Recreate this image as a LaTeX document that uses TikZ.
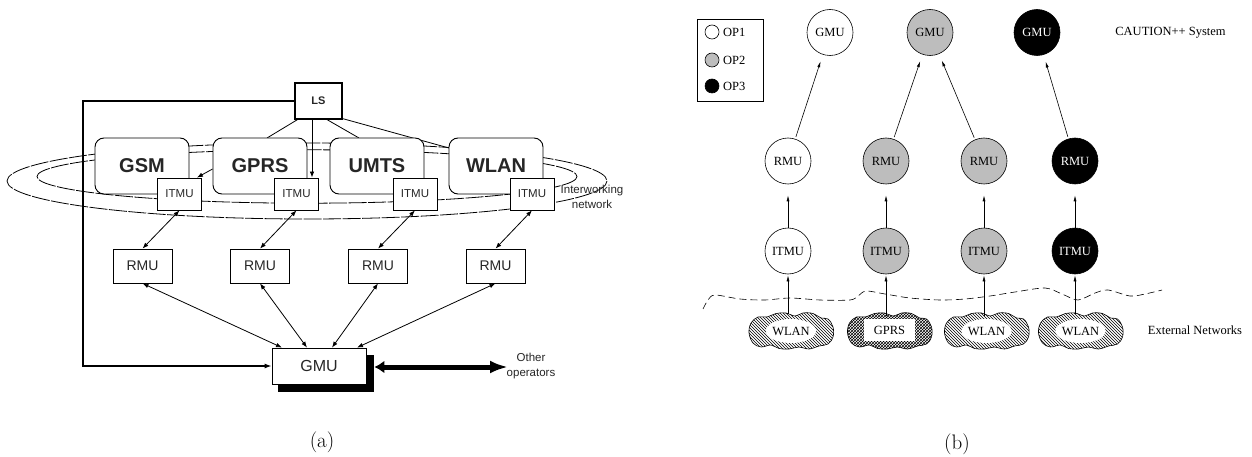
\documentclass[tikz,border=0pt]{standalone}
\usepackage{fontspec}
\newfontfamily\arialf{Liberation Sans}
\newfontfamily\timesf{Liberation Serif}
\usetikzlibrary{arrows.meta,shapes.geometric,patterns,calc}
\definecolor{opgray}{gray}{0.74}
\definecolor{txtgray}{gray}{0.15}
\begin{document}
\begin{tikzpicture}[x=1pt,y=-1pt,
  abox/.style={draw, fill=white, line width=0.8pt, inner sep=0pt, text=txtgray},
  net/.style={draw, fill=white, rounded corners=9pt, line width=0.9pt, minimum width=94pt, minimum height=56pt, inner sep=0pt, text=txtgray, font=\arialf\bfseries\fontsize{20}{24}\selectfont},
  itmu/.style={abox, minimum width=44pt, minimum height=32pt, font=\arialf\fontsize{11.5}{13}\selectfont},
  rmu/.style={abox, minimum width=59pt, minimum height=34pt, font=\arialf\fontsize{14}{16}\selectfont},
  ring/.style={line width=0.8pt, dash pattern=on 18pt off 1.5pt},
  dbl/.style={{Latex[length=6pt,width=4.5pt]}-{Latex[length=6pt,width=4.5pt]}, line width=0.8pt},
  plain/.style={line width=0.8pt},
  smalltxt/.style={font=\arialf\fontsize{11.5}{15}\selectfont, text=txtgray, align=center, inner sep=0pt},
  circ/.style={circle, draw, line width=0.6pt, minimum size=46pt, inner sep=0pt, font=\timesf\fontsize{12.5}{14}\selectfont},
  opone/.style={circ, fill=white},
  optwo/.style={circ, fill=opgray},
  opthree/.style={circ, fill=black, text=white},
  barrow/.style={-{Latex[length=6pt,width=3pt]}, line width=0.6pt},
  wlab/.style={ellipse, fill=white, inner xsep=-1pt, minimum height=24pt, font=\timesf\fontsize{12.5}{14}\selectfont},
  serift/.style={font=\timesf\fontsize{12.5}{14}\selectfont, inner sep=0pt},
  capt/.style={font=\fontsize{21}{24}\selectfont, inner sep=0pt},
  netcloud/.pic={\draw[line width=0.6pt, pic actions] plot[smooth cycle, tension=0.6] coordinates {(-42,2) (-40,-8) (-33,-14) (-24,-14) (-15,-17.5) (-5,-18) (4,-15) (12,-18) (22,-17.5) (30,-13) (37,-12) (42,-4) (42,6) (37,13) (28,15) (18,18) (8,16) (-2,18) (-12,17.5) (-20,14) (-30,16) (-38,12)};}
]
\useasboundingbox (0,0) rectangle (1252,457);

% ================= (a) =================
\draw[ring] (307,181) ellipse [x radius=300, y radius=38];
\draw[ring] (307,176.5) ellipse [x radius=270, y radius=26.7];
\node[smalltxt] (iwn) at (592,196.5) {Interworking\\network};

\node[abox, minimum width=47pt, minimum height=36pt, line width=1.2pt, font=\arialf\bfseries\fontsize{11}{13}\selectfont] (ls) at (318.5,101) {LS};

\coordinate (gprsTop) at (267,138);
\coordinate (umtsTop) at (359,138);
\coordinate (wlanLeft) at (449,148);
\draw[plain] ([xshift=-21pt]ls.south) -- (gprsTop);
\draw[plain] ([xshift=8.5pt]ls.south) -- (umtsTop);
\draw[plain] ([yshift=1pt]ls.south east) -- (wlanLeft);

\node[net] (gsm) at (142,166) {GSM};
\node[net] (gprs) at (260,166) {GPRS};
\node[net] (umts) at (377,166) {UMTS};
\node[net] (wlan) at (496,166) {WLAN};

\node[itmu] (it1) at (179.5,194) {ITMU};
\node[itmu] (it2) at (296.5,194) {ITMU};
\node[itmu] (it3) at (415,194) {ITMU};
\node[itmu] (it4) at (532,194) {ITMU};

\draw[plain, -{Latex[length=6pt,width=4.5pt]}] ([xshift=-6.5pt]ls.south) -- ([xshift=-6.5pt]ls.south |- it2.north);
\draw[plain, -{Latex[length=6pt,width=4.5pt]}] ([yshift=-3pt]gprs.west) -- ([xshift=-5pt]it1.north east);

\node[rmu] (rm1) at (142.5,266) {RMU};
\node[rmu] (rm2) at (260,266) {RMU};
\node[rmu] (rm3) at (378,266) {RMU};
\node[rmu] (rm4) at (495.5,266) {RMU};

\draw[dbl] (it1.south) -- (rm1.north);
\draw[dbl] (it2.south) -- (rm2.north);
\draw[dbl] (it3.south) -- (rm3.north);
\draw[dbl] (it4.south) -- (rm4.north);

\fill (278,355) rectangle (374,392);
\node[abox, minimum width=94pt, minimum height=36pt, font=\arialf\fontsize{16}{18}\selectfont] (gmu) at (319,366) {GMU};

\draw[dbl] (rm1.south) -- ([xshift=-37pt]gmu.north);
\draw[dbl] (rm2.south) -- ([xshift=-12pt]gmu.north);
\draw[dbl] (rm3.south) -- ([xshift=13pt]gmu.north);
\draw[dbl] (rm4.south) -- ([xshift=38pt]gmu.north);

\coordinate (lx) at (83,101);
\draw[line width=1.2pt, -{Latex[length=7pt,width=5pt]}] (ls.west) -- (lx) -- (lx |- gmu.west) -- (gmu.west);

\coordinate (oth) at (508,367);
\draw[line width=5pt, {Latex[length=10pt,width=13pt]}-{Latex[length=18pt,width=13pt]}] ([xshift=8pt,yshift=-1pt]gmu.east) -- (oth);
\node[smalltxt] (othl) at (531,366.5) {Other\\operators};

\node[capt] (capa) at (322,442) {(a)};

% ================= (b) =================
\node[draw, line width=0.6pt, minimum width=66pt, minimum height=82pt, inner sep=0pt] (leg) at (730,60) {};
\node[circle, draw, line width=0.6pt, fill=white, minimum size=14pt, inner sep=0pt] (lg1) at (712,32) {};
\node[circle, draw, line width=0.6pt, fill=opgray, minimum size=14pt, inner sep=0pt] (lg2) at (712,60) {};
\node[circle, draw, line width=0.6pt, fill=black, minimum size=14pt, inner sep=0pt] (lg3) at (712,86) {};
\node[serift, anchor=west] (lt1) at (723,32) {OP1};
\node[serift, anchor=west] (lt2) at (723,60) {OP2};
\node[serift, anchor=west] (lt3) at (723,86) {OP3};

\node[opone] (g1) at (830,32.5) {GMU};
\node[optwo] (g2) at (930,32.5) {GMU};
\node[opthree] (g3) at (1037,32.5) {GMU};

\node[opone] (r1) at (788,161) {RMU};
\node[optwo] (r2) at (886,161) {RMU};
\node[optwo] (r3) at (984,161) {RMU};
\node[opthree] (r4) at (1075,161) {RMU};

\node[opone] (i1) at (788,251) {ITMU};
\node[optwo] (i2) at (886,251) {ITMU};
\node[optwo] (i3) at (984,251) {ITMU};
\node[opthree] (i4) at (1075,251) {ITMU};

\draw[barrow, shorten <=2pt, shorten >=7pt] (r1) -- (g1);
\draw[barrow, shorten <=2pt, shorten >=7pt] (r2) -- (g2);
\draw[barrow, shorten <=2pt, shorten >=7pt] (r3) -- (g2);
\draw[barrow, shorten <=2pt, shorten >=7pt] (r4) -- (g3);

\draw[barrow, shorten >=11pt] (i1) -- (r1);
\draw[barrow, shorten >=11pt] (i2) -- (r2);
\draw[barrow, shorten >=11pt] (i3) -- (r3);
\draw[barrow, shorten >=11pt] (i4) -- (r4);

\draw[line width=0.6pt, dash pattern=on 7pt off 4pt] plot[smooth] coordinates {(703,309) (708,300) (715,295) (740,299) (765,300) (790,298) (820,300) (850,300) (858,296) (866,291) (885,294) (910,298) (940,300) (965,299) (990,296) (1015,292) (1045,288) (1062,294) (1078,300) (1095,293) (1108,290) (1130,296) (1145,294) (1162,290)};

% external network clouds
\pic[pattern=north west lines] at (791,331) {netcloud};
\pic[pattern=crosshatch] at (889.5,331) {netcloud};
\pic[pattern=north west lines] at (986.5,331) {netcloud};
\pic[pattern=north west lines] at (1080.5,331) {netcloud};
\node[wlab] (w1) at (791,331) {WLAN};
\node[fill=white, minimum width=51pt, minimum height=22pt, inner sep=0pt, font=\timesf\fontsize{12.5}{14}\selectfont] (w2) at (889.5,330) {GPRS};
\node[wlab] (w3) at (986.5,331) {WLAN};
\node[wlab] (w4) at (1080.5,331) {WLAN};
\coordinate (c1) at (788,314);
\coordinate (c2) at (886,316);
\coordinate (c3) at (984,316);
\coordinate (c4) at (1075,314);

\draw[barrow, shorten >=1pt] (c1) -- (i1);
\draw[barrow, shorten >=1pt] (c2) -- (i2);
\draw[barrow, shorten >=1pt] (c3) -- (i3);
\draw[barrow, shorten >=1pt] (c4) -- (i4);

\node[serift] (cap) at (1170.5,33) {CAUTION++ System};
\node[serift] (ext) at (1195,330) {External Networks};

\node[capt] (capb) at (957,444) {(b)};
\end{tikzpicture}
\end{document}
